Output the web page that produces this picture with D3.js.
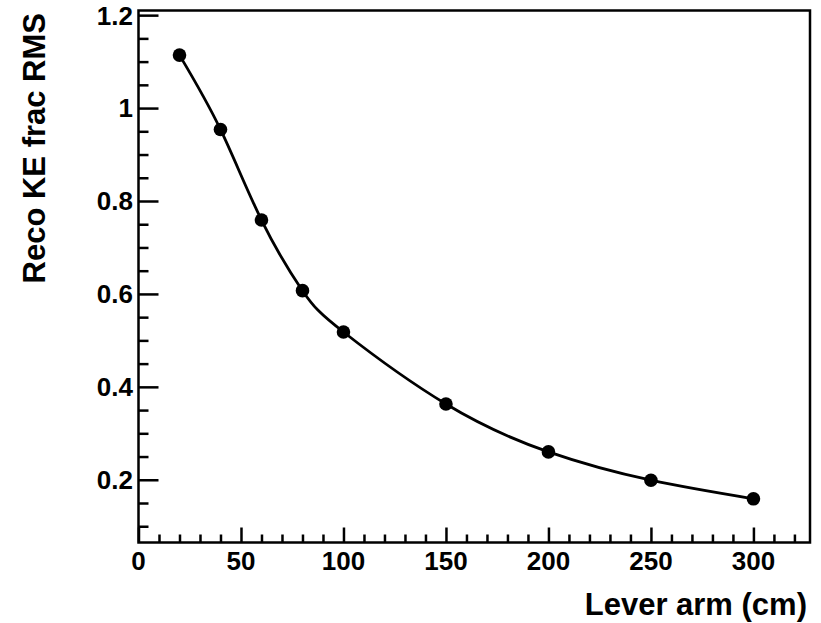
<!DOCTYPE html>
<html>
<head>
<meta charset="utf-8">
<script src="https://cdn.jsdelivr.net/npm/d3@7"></script>
<style>
  html, body { margin: 0; padding: 0; background: #fff; }
  svg { display: block; }
  text { font-family: "Liberation Sans", Arial, Helvetica, sans-serif; font-weight: bold; fill: #000; }
</style>
</head>
<body>
<svg id="chart" width="821" height="623"></svg>
<script>
// Data
const leverArm = [20, 40, 60, 80, 100, 150, 200, 250, 300];
const fracRMS  = [1.114, 0.954, 0.759, 0.607, 0.518, 0.363, 0.260, 0.199, 0.159];
const xMajorTicks = [0, 50, 100, 150, 200, 250, 300];
const yMajorTicks = [0.2, 0.4, 0.6, 0.8, 1.0, 1.2];
const xTitle = "Lever arm (cm)";
const yTitle = "Reco KE frac RMS";

(function () {
const svg = d3.select("#chart");
const mLeft = 138.5, mRight = 810, mTop = 10.5, mBottom = 542.5;

const x = d3.scaleLinear().domain([0, 327.6]).range([mLeft, mRight]);
const y = d3.scaleLinear().domain([0.065, 1.21]).range([mBottom, mTop]);

// Frame
svg.append("rect")
  .attr("x", mLeft).attr("y", mTop)
  .attr("width", mRight - mLeft).attr("height", mBottom - mTop)
  .attr("fill", "none").attr("stroke", "#000").attr("stroke-width", 2.5);

// Y axis ticks
const yMinor = d3.range(0.1, 1.2001, 0.05).filter(v => yMajorTicks.every(m => Math.abs(m - v) > 1e-6) && v >= 0.065);
const yAxisMajor = d3.axisRight(y).tickValues(yMajorTicks).tickSize(20).tickFormat("");
const yAxisMinor = d3.axisRight(y).tickValues(yMinor).tickSize(10).tickFormat("");
[yAxisMajor, yAxisMinor].forEach(ax => {
  const g = svg.append("g").attr("transform", `translate(${mLeft},0)`).call(ax);
  g.select(".domain").remove();
  g.selectAll("line").attr("stroke", "#000").attr("stroke-width", 2.5);
});
svg.append("g").selectAll("text").data(yMajorTicks).join("text")
  .attr("x", 133).attr("y", d => y(d)).attr("dy", "0.36em")
  .attr("text-anchor", "end").attr("font-size", 26)
  .text(d => d3.format("~g")(d));

// X axis ticks
const xMinor = d3.range(10, 327, 10).filter(v => v % 50 !== 0);
const xAxisMajor = d3.axisTop(x).tickValues(xMajorTicks).tickSize(15).tickFormat("");
const xAxisMinor = d3.axisTop(x).tickValues(xMinor).tickSize(8).tickFormat("");
[xAxisMajor, xAxisMinor].forEach(ax => {
  const g = svg.append("g").attr("transform", `translate(0,${mBottom})`).call(ax);
  g.select(".domain").remove();
  g.selectAll("line").attr("stroke", "#000").attr("stroke-width", 2.5);
});
svg.append("g").selectAll("text").data(xMajorTicks).join("text")
  .attr("x", d => x(d)).attr("y", 570)
  .attr("text-anchor", "middle").attr("font-size", 26)
  .text(d => d);

// Titles
svg.append("text").attr("x", 807).attr("y", 615)
  .attr("text-anchor", "end").attr("font-size", 31).text(xTitle);
svg.append("text").attr("transform", "translate(45,13) rotate(-90)")
  .attr("text-anchor", "end").attr("font-size", 31).text(yTitle);

// Curve
const pts = leverArm.map((d, i) => [d, fracRMS[i]]);
const line = d3.line().x(d => x(d[0])).y(d => y(d[1])).curve(d3.curveNatural);
svg.append("path").datum(pts).attr("d", line)
  .attr("fill", "none").attr("stroke", "#000").attr("stroke-width", 2.8);

// Markers
svg.append("g").selectAll("circle").data(pts).join("circle")
  .attr("cx", d => x(d[0])).attr("cy", d => y(d[1])).attr("r", 6.8)
  .attr("fill", "#000");
})();
</script>
</body>
</html>
